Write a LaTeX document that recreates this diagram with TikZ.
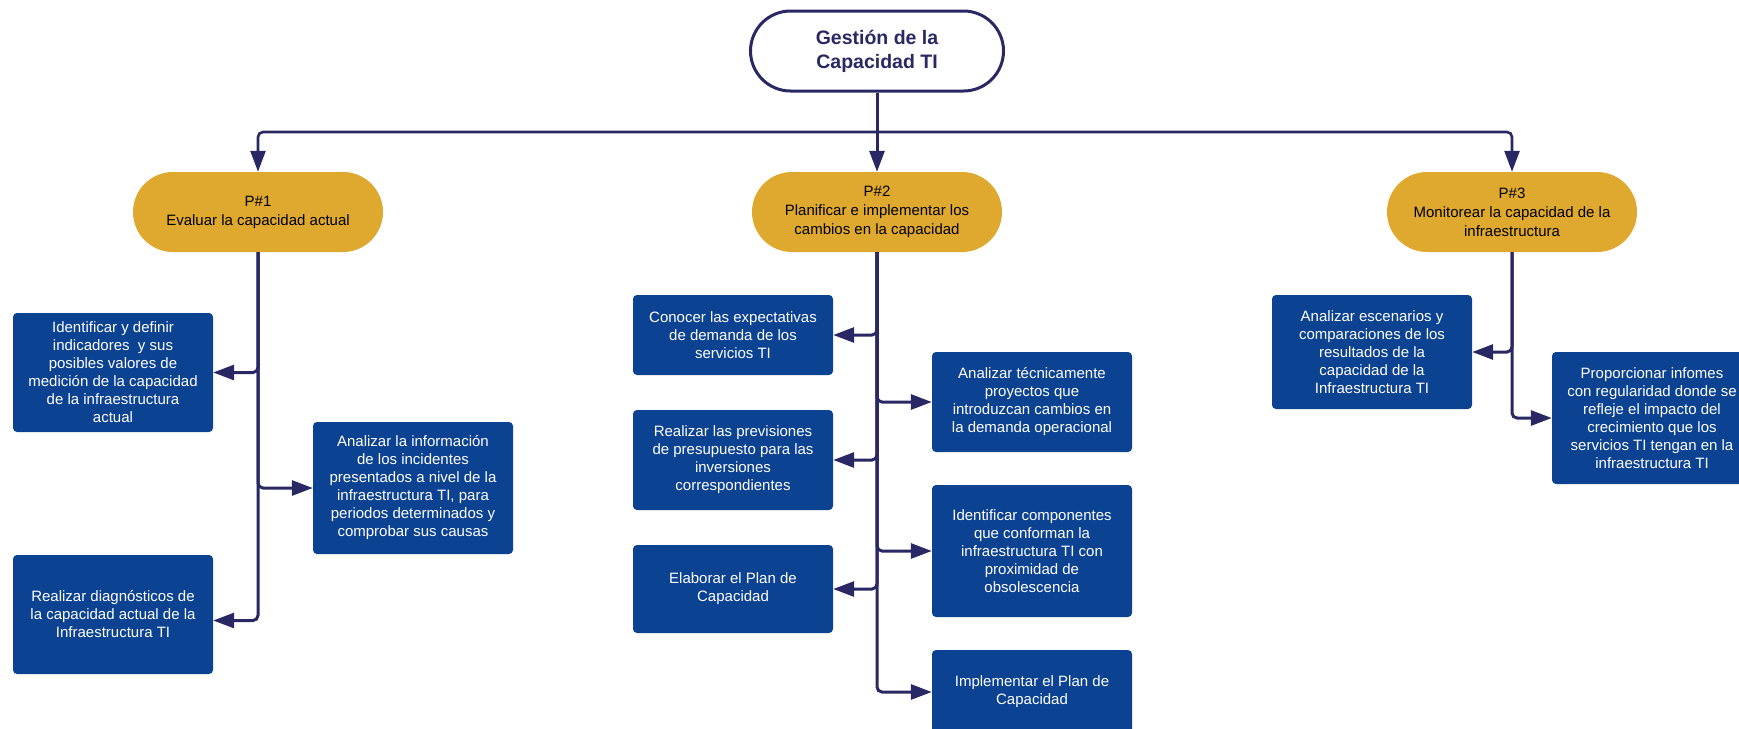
\documentclass[tikz,border=0pt]{standalone}
\usepackage{fontspec}
\setmainfont{Liberation Sans}
\usetikzlibrary{arrows.meta}
\definecolor{navy}{RGB}{42,40,100}
\definecolor{boxblue}{RGB}{12,66,146}
\definecolor{gold}{RGB}{222,169,46}
\tikzset{
  task/.style={draw=none, fill=boxblue, text=white, rounded corners=4pt, minimum width=200pt, align=center, inner sep=2pt, font=\fontsize{15}{18}\selectfont},
  phase/.style={fill=gold, text=black, rounded corners=40pt, minimum width=250pt, minimum height=80pt, align=center, font=\fontsize{15}{19}\selectfont},
  titlebox/.style={draw=navy, line width=3pt, fill=white, text=navy, rounded corners=40pt, minimum width=253pt, minimum height=80pt, align=center, font=\bfseries\fontsize{19.5}{24}\selectfont},
  conn/.style={draw=navy, line width=3pt, rounded corners=5pt, -{Triangle[length=21pt,width=15pt]}},
  hline/.style={draw=navy, line width=2.6pt, rounded corners=5pt, -{Triangle[length=21pt,width=15pt]}}
}
\begin{document}
\begin{tikzpicture}[x=1pt,y=-1pt]
\useasboundingbox (0,0) rectangle (1739,728);
\clip (0,0) rectangle (1739,728);
\fill[white] (0,0) rectangle (1739,728);

\node[titlebox] (top) at (877,51) {Gestión de la\\Capacidad TI};
\node[phase] (p1) at (258,212) {P\#1\\Evaluar la capacidad actual};
\node[phase] (p2) at (877,212) {P\#2\\Planificar e implementar los\\cambios en la capacidad};
\node[phase] (p3) at (1512,212) {P\#3\\Monitorear la capacidad de la\\infraestructura};
\coordinate (hub) at (877,132);

% P1 tasks
\node[task, minimum height=119pt] (a1) at (113,372.5) {Identificar y definir\\indicadores \ y sus\\posibles valores de\\medición de la capacidad\\de la infraestructura\\actual};
\node[task, minimum height=132pt] (a2) at (413,488) {Analizar la información\\de los incidentes\\presentados a nivel de la\\infraestructura TI, para\\periodos determinados y\\comprobar sus causas};
\node[task, minimum height=119pt] (a3) at (113,614.5) {Realizar diagnósticos de\\la capacidad actual de la\\Infraestructura TI};

% P2 tasks
\node[task, minimum height=80pt] (b1) at (733,335) {Conocer las expectativas\\de demanda de los\\servicios TI};
\node[task, minimum height=100pt] (b2) at (733,460) {Realizar las previsiones\\de presupuesto para las\\inversiones\\correspondientes};
\node[task, minimum height=88pt] (b3) at (733,589) {Elaborar el Plan de\\Capacidad};
\node[task, minimum height=100pt] (c1) at (1032,402) {Analizar técnicamente\\proyectos que\\introduzcan cambios en\\la demanda operacional};
\node[task, minimum height=132pt] (c2) at (1032,551) {Identificar componentes\\que conforman la\\infraestructura TI con\\proximidad de\\obsolescencia};
\node[task, minimum height=84pt] (c3) at (1032,692) {Implementar el Plan de\\Capacidad};

% P3 tasks
\node[task, minimum height=114pt] (d1) at (1372,352) {Analizar escenarios y\\comparaciones de los\\resultados de la\\capacidad de la\\Infraestructura TI};
\node[task, minimum height=132pt] (d2) at (1652,418) {Proporcionar infomes\\con regularidad donde se\\refleje el impacto del\\crecimiento que los\\servicios TI tengan en la\\infraestructura TI};

% top connectors
\draw[conn] (top.south) -- (p2.north);
\draw[hline] (hub) -| (p1.north);
\draw[hline] (hub) -| (p3.north);

% P1 branches
\draw[conn] (p1.south) |- (a1.east);
\draw[conn] (p1.south) |- (a2.west);
\draw[conn] (p1.south) |- ([yshift=-6pt]a3.east);

% P2 branches
\draw[conn] (p2.south) |- (b1.east);
\draw[conn] (p2.south) |- (b2.east);
\draw[conn] (p2.south) |- (b3.east);
\draw[conn] (p2.south) |- (c1.west);
\draw[conn] (p2.south) |- (c2.west);
\draw[conn] (p2.south) |- (c3.west);

% P3 branches
\draw[conn] (p3.south) |- (d1.east);
\draw[conn] (p3.south) |- (d2.west);
\end{tikzpicture}
\end{document}
